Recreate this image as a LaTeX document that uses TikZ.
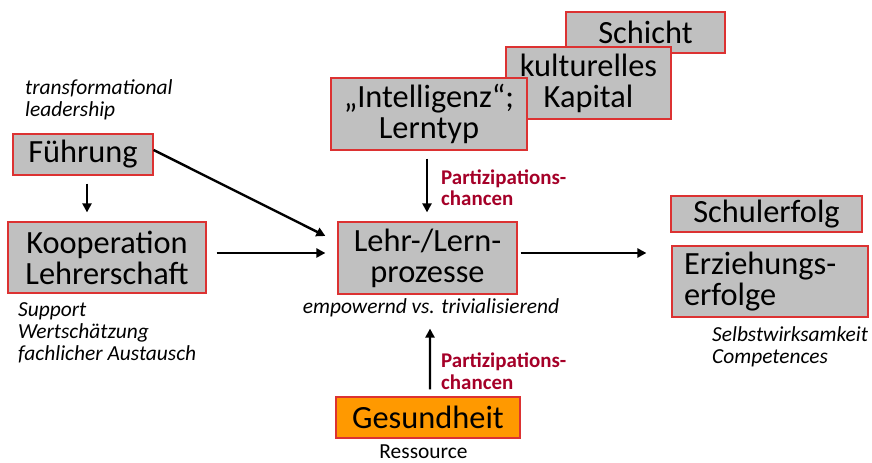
\documentclass[tikz,border=0pt]{standalone}
\usepackage{fontspec}
\setmainfont{Carlito}
\usetikzlibrary{arrows.meta,calc}
\definecolor{boxgray}{RGB}{192,192,192}
\definecolor{boxred}{RGB}{220,50,50}
\definecolor{accent}{RGB}{165,0,40}
\definecolor{gesorange}{RGB}{255,153,0}
\tikzset{
  box/.style={draw=boxred, fill=boxgray, line width=1.2bp, inner sep=0pt,
    align=center, font=\fontsize{32.5}{31}\selectfont},
  arr/.style={line width=2.4bp, -{Triangle[length=9bp,width=9bp]}},
  note/.style={inner sep=0pt, align=left, font=\fontsize{21.5}{22.5}\selectfont\itshape},
  part/.style={inner sep=0pt, align=left, text=accent, font=\fontsize{21}{21.5}\selectfont\bfseries},
}
\begin{document}
\begin{tikzpicture}[x=1bp,y=-1bp]
\useasboundingbox (0,0) rectangle (872,463);

% stacked background factors
\node[box, minimum width=159bp, minimum height=41bp] (schicht) at (645.5,32.5) {Schicht};
\node[box, minimum width=165bp, minimum height=72bp] (kapital) at (588.5,83) {kulturelles\\Kapital};
\node[box, minimum width=196bp, minimum height=72bp] (intel) at (429,114) {„Intelligenz“;\\Lerntyp};

% left column
\node[box, minimum width=140bp, minimum height=41bp] (fuehrung) at (83,154.5) {Führung};
\node[box, minimum width=198bp, minimum height=71bp] (koop) at (107,257.5) {Kooperation\\Lehrerschaft};

% centre
\node[box, minimum width=179bp, minimum height=72bp] (lehr) at (427.5,258) {Lehr-/Lern-\\prozesse};
\node[box, fill=gesorange, minimum width=184bp, minimum height=41bp] (gesund) at (428,417.5) {Gesundheit};

% outcomes
\node[box, minimum width=191bp, minimum height=36bp] (schul) at (766.5,214) {Schulerfolg};
\node[box, minimum width=196bp, minimum height=71bp, text width=172bp, align=left] (erz) at (770,281.5) {Erziehungs-\\erfolge};

% annotations
\node[note, anchor=north west] (tl) at (25,79) {transformational\\leadership};
\node[note, anchor=north west] (sup) at (18,302) {Support\\Wertschätzung\\fachlicher Austausch};
\node[note, anchor=base] (emp) at (431,314) {empowernd vs. trivialisierend};
\node[note, anchor=north west] (selbst) at (712,326) {Selbstwirksamkeit\\Competences};
\node[inner sep=0pt, anchor=base, font=\fontsize{21.5}{21.5}\selectfont] (res) at (423.5,458) {Ressource};
\node[part, anchor=north west] (p1) at (441,169.5) {Partizipations-\\chancen};
\node[part, anchor=north west] (p2) at (441,353) {Partizipations-\\chancen};

% connectors
\coordinate (out) at ($(erz.west)+(-25,-28.5)$);
\draw[arr] ($(fuehrung.south)+(4,8)$) -- ($(koop.north)+(-20,-9)$);
\draw[arr] ($(fuehrung.east)+(0,-4.5)$) -- ($(lehr.west)+(-12,-22)$);
\draw[arr] ($(koop.east)+(10,-4.5)$) -- ($(lehr.west)+(-12,-5)$);
\draw[arr] ($(intel.south)+(-2,8)$) -- ($(lehr.north)+(-0.5,-9)$);
\draw[arr] ($(lehr.east)+(3,-5)$) -- (out);
\draw[arr] ($(gesund.north)+(2,-7)$) -- ($(lehr.south)+(2.5,34)$);
\end{tikzpicture}
\end{document}
